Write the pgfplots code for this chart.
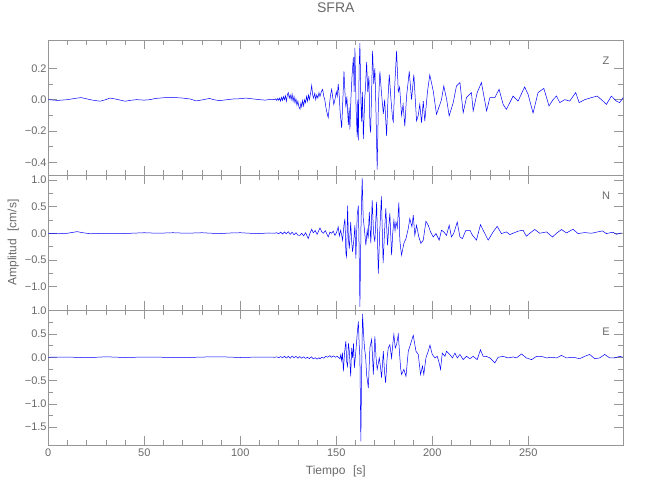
\documentclass[border=0pt]{standalone}
\usepackage{pgfplots}
\pgfplotsset{compat=1.18}
\usepackage{fontspec}
\setmainfont{Liberation Sans}
\definecolor{axgray}{RGB}{150,150,150}
\definecolor{txtgray}{RGB}{105,105,105}
\pgfplotsset{
  seis/.style={
    scale only axis, width=575pt, height=135pt, anchor=south west,
    xmin=0, xmax=299.5,
    xtick={0,50,...,250}, minor x tick num=4,
    xtick pos=both, ytick pos=both, tick align=inside,
    major tick length=9pt, minor tick length=5pt,
    axis line style={axgray, line width=0.6pt},
    every tick/.append style={axgray, line width=0.6pt},
    tick label style={/tikz/font=\fontsize{11}{13}\selectfont, /tikz/text=txtgray},
    /pgf/number format/assume math mode=true,
    yticklabel style={/tikz/inner xsep=1.5pt},
    label style={/tikz/font=\fontsize{12}{14}\selectfont, /tikz/text=txtgray},
    clip=true,
  },
  trace/.style={blue, line width=0.5pt, mark=none}
}
\begin{document}
\begin{tikzpicture}
\path[use as bounding box] (0,0) rectangle (650pt,500pt);
% ---------------- Z ----------------
\begin{axis}[seis, at={(48.3pt,325pt)},
  ymin=-0.48, ymax=0.38, ytick={-0.4,-0.2,0,0.2}, minor y tick num=1,
  yticklabels={−0.4,−0.2,0.0,0.2},
  xticklabels={},
  title=SFRA, title style={at={(axis description cs:0.5,1.193)}, anchor=center, font=\fontsize{14}{16}\selectfont, text=txtgray}]
\addplot[trace] coordinates {
(0,0) (5,-0.005) (10,0) (14,0.008) (17,0.013) (20,0.005) (23,-0.003) (27,-0.01) (30,0) (32,0.01) (35,0.004) (40,-0.01) (43,-0.004) (46,0) (50,-0.003) (53,0) (56,0.008) (60,0.012) (65,0.014) (70,0.01) (74,0.004) (77,-0.008) (80,-0.002) (84,0.008) (86,0) (89,-0.006) (92,-0.002) (96,0.004) (100,0.006) (103,0.01) (107,0.004) (110,0) (113,-0.003) (116,0.002)
(118,0) (118.5,0.005) (119,-0.005) (119.5,0.008) (120,-0.004) (120.5,0.01) (121,-0.01) (121.5,0.015) (122,-0.005) (122.5,0.02) (123,0.0) (123.5,0.025) (124,-0.01) (124.5,0.03) (125,0.045) (125.5,0.01) (126,0.03) (126.5,0.0) (127,0.035) (127.5,-0.01) (128,0.02) (128.5,-0.02) (129,0.005) (129.5,-0.035) (130,-0.01) (130.5,-0.045) (131.1,-0.06) (131.6,-0.02) (132,-0.045) (132.5,-0.005) (133,-0.04) (133.5,0.0) (134,-0.02) (134.5,0.02) (135,-0.01) (135.5,0.03) (136,0.0) (136.6,0.04) (137.2,0.09) (137.7,0.03) (138.2,0.01) (138.8,0.04) (139.3,0.0) (139.8,0.03) (140.4,0.01) (141,0.045) (141.5,0.02) (142.2,0.05) (142.9,0.066) (143.5,0.02) (144,0.0) (144.6,-0.05) (145.1,-0.08) (145.8,-0.115) (146.4,-0.04) (147,0.03) (147.6,0.066) (148.1,0.02) (148.7,-0.03) (149.3,0.0) (150,0.05) (150.5,0.02) (151,0.1) (151.5,0.03) (152,-0.08) (152.8,-0.18) (153.3,-0.04) (154,0.18) (154.5,0.05) (155,-0.05) (155.5,0.02) (156.3,-0.16) (156.7,-0.05) (157.1,-0.19) (157.6,0.0) (158.2,0.15) (158.9,0.27) (159.3,0.05) (159.7,0.33) (160.3,-0.05) (160.9,-0.24) (161.2,0.0) (161.5,-0.26) (161.9,0.2) (162.3,0.36) (162.8,0.0) (163.2,-0.14) (163.6,0.05) (164.1,-0.25) (164.8,0.0) (165.3,0.1) (165.8,0.24) (166.4,0.05) (167.0,0.15) (167.5,-0.16) (167.9,-0.21) (168.4,0.05) (168.9,0.31) (169.5,0.1) (170.1,0.2) (170.6,-0.03) (171.3,-0.445) (171.9,-0.05) (172.7,0.18) (173.5,0.05) (174.5,-0.09) (175.2,0.0) (176.2,-0.23) (176.9,0.0) (177.6,0.16) (178.5,0.0) (179.3,-0.12) (179.7,-0.14) (180.5,0.1) (181.4,0.31) (182.3,0.05) (183.0,0.08) (184.0,-0.1) (184.8,-0.03) (185.7,-0.17) (186.6,0.02) (187.5,0.12) (188.0,0.18) (189.2,0.0) (190.4,0.16) (191.8,-0.136) (192.7,-0.1) (193.5,-0.03) (194.4,-0.147) (195.3,-0.01) (196.1,-0.136) (197.5,0.05) (198.7,0.158) (200.5,0.055) (202.2,-0.094) (204.8,0.0) (206.0,0.087) (207.5,0.0) (208.8,-0.104) (210.9,-0.019) (212.6,0.087) (214.4,0.109) (216.1,-0.083) (217.8,0.013) (220.4,0.045) (221.3,-0.072) (223.4,0.045) (225.6,0.109) (228.3,-0.072) (230.0,0.013) (232.6,0.013) (234.8,0.066) (236.9,-0.03) (238.6,-0.062) (242.1,0.023) (244.7,-0.009) (248.1,0.081) (249.9,0.034) (252.5,-0.085) (255.1,0.045) (258.1,0.072) (260.8,-0.04) (262.9,0.0) (264.7,0.023) (266.4,-0.019) (269.0,0.0) (271.6,-0.009) (274.7,0.045) (276.5,-0.019) (279.4,0.0) (282.9,0.013) (285.9,0.023) (288.1,0.0) (290.7,-0.03) (293.3,0.023) (295.9,-0.009) (297.6,-0.019) (299.4,0.013)
};
\node[font=\fontsize{11}{13}\selectfont, text=txtgray] at (rel axis cs:0.970,0.845) {Z};
\end{axis}
% ---------------- N ----------------
\begin{axis}[seis, at={(48.3pt,190pt)},
  ymin=-1.44, ymax=1.093, ytick={-1,-0.5,0,0.5,1}, minor y tick num=1,
  yticklabels={−1.0,−0.5,0.0,0.5,1.0},
  xticklabels={},
  ylabel={Amplitud\hspace{0.35em} [cm/s]}, ylabel style={at={(axis description cs:-0.061,0.5)}, anchor=center}]
\addplot[trace] coordinates {
(0,0) (5,-0.01) (10,0) (15,0.03) (18,0.01) (22,-0.01) (30,0.0) (40,-0.005) (50,0.01) (57,0.0) (65,0.01) (72,0.0) (80,0.01) (85,0.0) (90,-0.005) (95,0.005) (100,0.01) (105,0.0) (110,-0.005) (115,0.005)
(118,0) (119,0.01) (120,-0.01) (121,0.02) (122,-0.015) (123,0.025) (124,-0.01) (125,0.03) (126,-0.02) (127,0.02) (128,-0.03) (129,0.01) (130,-0.035) (131.1,-0.04) (132,0.0) (133,-0.05) (134,0.01) (135.4,-0.1) (136.3,0.0) (137.2,0.075) (138,0.01) (139,0.05) (140,-0.02) (141.5,0.1) (142.4,0.03) (143.3,0.0) (144.3,0.05) (145.8,-0.07) (146.7,0.02) (147.6,0.0) (148.4,0.04) (149.3,-0.04) (150.2,0.02) (151.0,0.12) (151.6,-0.05) (152.3,0.056) (153.3,-0.13) (154.0,0.15) (154.5,0.275) (155.0,-0.37) (155.4,-0.44) (155.9,0.52) (156.3,-0.1) (156.8,-0.29) (157.5,0.21) (158.0,-0.15) (158.5,-0.35) (159.2,-0.1) (159.7,0.15) (160.2,-0.475) (160.9,0.34) (161.5,0.52) (161.9,-0.3) (162.3,-1.38) (162.9,0.2) (163.5,1.04) (164.0,0.3) (164.6,0.09) (165.4,-0.225) (166.1,0.056) (166.6,-0.1) (167.2,0.4) (168.0,-0.19) (168.7,0.62) (169.4,0.0) (170.1,-0.16) (171.0,0.59) (171.9,-0.756) (172.6,0.0) (173.5,0.69) (174.4,-0.56) (175.1,0.0) (175.8,0.47) (176.7,-0.225) (177.3,0.1) (177.9,0.375) (178.8,-0.41) (179.4,0.0) (180.0,0.24) (180.6,0.05) (181.1,0.21) (181.8,0.1) (182.6,0.58) (183.1,-0.13) (183.6,-0.3) (184.0,-0.41) (185.2,-0.19) (186.3,-0.1) (187.5,0.09) (188.3,0.275) (189.4,0.12) (190.1,0.34) (190.9,-0.04) (191.8,0.15) (193.0,-0.07) (194.1,-0.19) (195.3,-0.13) (196.7,0.225) (197.9,0.15) (199.1,0.025) (200.5,-0.07) (201.9,-0.006) (203.6,-0.13) (204.8,0.056) (206.0,0.025) (207.4,-0.04) (208.8,0.15) (210.0,-0.07) (211.2,0.0) (213.0,0.21) (214.4,-0.07) (215.7,-0.1) (217.5,0.056) (219.6,0.056) (221.0,-0.04) (223.0,-0.13) (225.1,0.16) (226.5,0.056) (229.1,-0.13) (231.7,0.025) (233.8,0.13) (236.0,-0.006) (238.6,0.025) (240.4,-0.025) (243.0,0.0125) (244.7,0.04) (247.3,0.056) (249.0,-0.056) (250.8,0.0) (253.4,0.07) (256.0,0.0) (259.5,0.025) (262.6,-0.07) (264.7,0.0) (267.3,0.07) (269.9,0.006) (273.3,0.075) (275.9,-0.006) (279.4,0.0125) (282.9,0.0) (285.5,0.02) (288.6,0.044) (290.7,-0.006) (294.1,0.02) (295.9,-0.02) (298.5,0.006)
};
\node[font=\fontsize{11}{13}\selectfont, text=txtgray] at (rel axis cs:0.970,0.845) {N};
\end{axis}
% ---------------- E ----------------
\begin{axis}[seis, at={(48.3pt,55pt)},
  ymin=-1.88, ymax=1.013, ytick={-1.5,-1,-0.5,0,0.5,1}, minor y tick num=1,
  yticklabels={−1.5,−1.0,−0.5,0.0,0.5,1.0},
  xticklabel style={/pgf/number format/fixed, /pgf/number format/precision=0},
  xlabel={Tiempo\hspace{0.35em} [s]}, xlabel style={at={(axis description cs:0.5,-0.193)}, anchor=center}]
\addplot[trace] coordinates {
(0,0) (10,0.005) (20,-0.01) (30,0.01) (40,-0.005) (50,0.005) (60,0) (70,-0.01) (80,0.005) (90,0.01) (100,-0.005) (110,0.005)
(118,0) (119,0.01) (120,-0.01) (121,0.015) (122,-0.01) (123,0.02) (124,-0.015) (125,0.02) (126,-0.02) (127,0.025) (128,-0.01) (129,0.02) (130,-0.02) (131,0.015) (132,-0.02) (133,0.01) (134,-0.025) (135,0.0) (136,-0.03) (137,0.01) (138,-0.035) (139,-0.01) (140,-0.04) (141,-0.01) (141.5,-0.03) (142.5,0.0) (143.5,-0.02) (144.5,0.02) (145.5,0.0) (146.7,0.035) (147.5,0.0) (148.5,0.03) (149.5,0.0) (150.5,0.02) (151.3,-0.01) (151.9,-0.03) (152.3,0.05) (152.8,-0.07) (153.2,0.1) (153.7,-0.3) (154.3,0.1) (155.0,0.35) (155.4,-0.1) (155.9,-0.19) (156.3,0.3) (156.8,0.13) (157.5,-0.41) (158.0,0.2) (158.5,-0.01) (159.0,0.3) (159.4,-0.23) (160.2,0.13) (160.8,0.45) (161.5,0.77) (161.9,0.3) (162.3,0.0) (162.8,-1.8) (163.2,-0.3) (163.7,0.93) (164.2,0.5) (164.7,0.2) (165.3,0.0) (165.8,-0.37) (166.7,-0.66) (167.5,0.2) (168.4,0.38) (168.9,0.0) (169.3,-0.37) (170.1,0.45) (170.7,0.0) (171.3,-0.26) (172.4,-0.014) (173.0,-0.2) (173.6,-0.44) (174.5,0.13) (175.1,-0.3) (175.7,-0.55) (176.5,0.0) (177.1,0.2) (177.9,0.27) (178.8,-0.014) (179.6,0.35) (180.0,0.49) (180.7,0.2) (181.4,0.27) (182.3,0.49) (183.0,0.06) (183.5,-0.23) (184.0,-0.37) (185.2,-0.26) (186.3,-0.41) (187.5,0.13) (188.9,0.31) (190.1,0.47) (191.5,0.13) (192.7,0.06) (193.9,-0.37) (194.9,-0.19) (195.6,-0.37) (196.7,-0.01) (197.9,0.13) (198.8,0.26) (200.0,0.06) (201.4,-0.014) (202.6,0.02) (203.6,-0.12) (204.3,-0.26) (205.2,0.09) (206.6,0.02) (207.4,0.13) (209.1,0.06) (210.5,-0.014) (211.8,0.09) (213.0,-0.014) (214.4,0.06) (216.1,-0.05) (217.8,0.02) (219.6,-0.03) (221.3,0.02) (223.4,-0.05) (225.1,0.16) (226.5,0.02) (228.2,0.02) (230.0,-0.014) (232.6,-0.12) (234.3,0.0) (236.9,0.02) (239.5,-0.014) (242.1,0.007) (243.8,-0.014) (246.5,0.07) (249.0,-0.014) (251.7,-0.05) (254.3,0.02) (256.8,0.02) (259.5,-0.014) (262.1,0.0) (264.7,-0.014) (267.3,0.04) (269.9,-0.014) (273.3,0.0) (276.8,-0.03) (279.4,0.02) (282.0,0.06) (284.6,-0.03) (287.2,-0.014) (289.8,0.06) (292.4,-0.014) (295.0,-0.014) (297.6,0.02) (299.4,0.0)
};
\node[font=\fontsize{11}{13}\selectfont, text=txtgray] at (rel axis cs:0.970,0.84) {E};
\end{axis}
\end{tikzpicture}
\end{document}
